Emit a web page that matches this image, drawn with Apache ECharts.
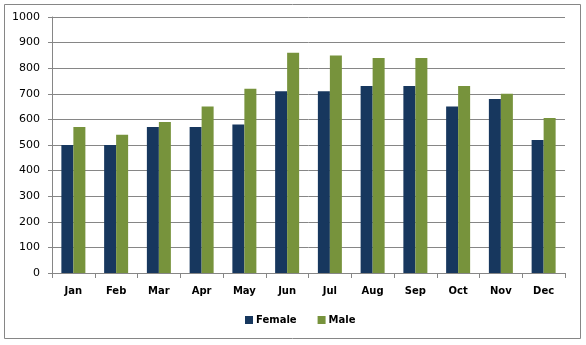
<!DOCTYPE html>
<html>
<head>
<meta charset="utf-8">
<script src="https://cdn.jsdelivr.net/npm/echarts@6/dist/echarts.min.js"></script>
<style>
  html, body { margin: 0; padding: 0; background: #fff; }
  #chart { width: 586px; height: 345px; }
</style>
</head>
<body>
<div id="chart"></div>
<script>
// Monthly counts by gender
const months = ['Jan', 'Feb', 'Mar', 'Apr', 'May', 'Jun', 'Jul', 'Aug', 'Sep', 'Oct', 'Nov', 'Dec'];
const female = [500, 500, 570, 570, 580, 710, 710, 730, 730, 650, 680, 520];
const male = [570, 540, 590, 650, 720, 860, 850, 840, 840, 730, 700, 605];
const yTicks = [0, 100, 200, 300, 400, 500, 600, 700, 800, 900, 1000];

const FONT = '"DejaVu Sans", Verdana, sans-serif';
const GRID_COLOR = '#868686';

const chart = echarts.init(document.getElementById('chart'), null, { renderer: 'canvas' });

chart.setOption({
  animation: false,
  backgroundColor: '#ffffff',
  graphic: [{
    type: 'rect',
    shape: { x: 4.5, y: 4.5, width: 576, height: 334 },
    style: { fill: 'none', stroke: '#868686', lineWidth: 1 },
    silent: true
  }],
  grid: { left: 52, right: 21, top: 17, bottom: 72, containLabel: false },
  legend: {
    data: ['Female', 'Male'],
    bottom: 15,
    left: 240,
    itemWidth: 8,
    itemHeight: 8,
    itemGap: 21,
    icon: 'rect',
    textStyle: { fontFamily: FONT, fontSize: 10, fontWeight: 'bold', color: '#000', padding: [0, 0, 0, -2] }
  },
  xAxis: {
    type: 'category',
    data: months,
    axisLine: { lineStyle: { color: GRID_COLOR, width: 1 } },
    axisTick: { show: true, length: 5, lineStyle: { color: GRID_COLOR }, alignWithLabel: false },
    axisLabel: { fontFamily: FONT, fontSize: 10, fontWeight: 'bold', color: '#000', margin: 13 }
  },
  yAxis: {
    type: 'value',
    min: yTicks[0],
    max: yTicks[yTicks.length - 1],
    interval: yTicks[1] - yTicks[0],
    axisLine: { show: true, lineStyle: { color: GRID_COLOR, width: 1 } },
    axisTick: { show: true, length: 4, lineStyle: { color: GRID_COLOR } },
    splitLine: { show: true, lineStyle: { color: GRID_COLOR, width: 1 } },
    axisLabel: {
      fontFamily: FONT, fontSize: 11, color: '#000', margin: 12,
      formatter: (v) => String(v)
    }
  },
  series: [
    {
      name: 'Female',
      type: 'bar',
      data: female,
      barWidth: 12,
      barGap: '0%',
      itemStyle: { color: '#17375E' }
    },
    {
      name: 'Male',
      type: 'bar',
      data: male,
      barWidth: 12,
      barGap: '0%',
      itemStyle: { color: '#77933C' }
    }
  ]
});
</script>
</body>
</html>
